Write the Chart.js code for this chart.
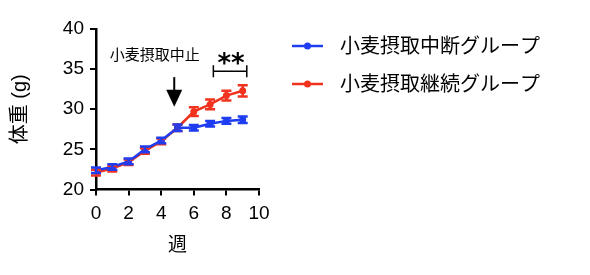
<!DOCTYPE html>
<html>
<head>
<meta charset="utf-8">
<script src="https://cdn.jsdelivr.net/npm/chart.js@4"></script>
<style>
  html, body { margin: 0; padding: 0; background: #fff; }
  #wrap { width: 590px; height: 275px; }
</style>
</head>
<body>
<div id="wrap"><canvas id="myChart" width="590" height="275"></canvas></div>
<script>
'use strict';

const weeks = [0, 1, 2, 3, 4, 5, 6, 7, 8, 9];
const stopLabel = '小麦摂取中断グループ';
const contLabel = '小麦摂取継続グループ';
const stopMeans = [22.4, 22.8, 23.5, 25.0, 26.1, 27.7, 27.7, 28.2, 28.55, 28.7];
const stopErrs  = [0.35, 0.35, 0.35, 0.35, 0.35, 0.4, 0.35, 0.35, 0.35, 0.4];
const contMeans = [22.1, 22.6, 23.4, 24.8, 26.0, 27.7, 29.7, 30.6, 31.7, 32.3];
const contErrs  = [0.35, 0.35, 0.35, 0.35, 0.35, 0.4, 0.55, 0.6, 0.6, 0.7];
const xTicks = [0, 2, 4, 6, 8, 10];
const yTicks = [20, 25, 30, 35, 40];
const stopNote = '小麦摂取中止';
const sigMark = '**';

const BLUE = '#1e3cf0';
const RED = '#f0321e';
const FONT = "'Liberation Sans', 'Noto Sans CJK JP', sans-serif";

const errorBars = {
    id: 'errorBars',
    afterDatasetsDraw(chart) {
        const ctx = chart.ctx;
        const xs = chart.scales.x, ys = chart.scales.y;
        for (let d = chart.data.datasets.length - 1; d >= 0; d--) {
            const ds = chart.data.datasets[d];
            ctx.save();
            ctx.strokeStyle = ds.borderColor;
            ctx.lineWidth = 2.5;
            for (let i = 0; i < ds.data.length; i++) {
                const p = ds.data[i];
                const x = xs.getPixelForValue(p.x);
                const y1 = ys.getPixelForValue(p.y - ds.errs[i]);
                const y2 = ys.getPixelForValue(p.y + ds.errs[i]);
                ctx.beginPath();
                ctx.moveTo(x, y1); ctx.lineTo(x, y2);
                ctx.moveTo(x - 5, y1); ctx.lineTo(x + 5, y1);
                ctx.moveTo(x - 5, y2); ctx.lineTo(x + 5, y2);
                ctx.stroke();
            }
            ctx.restore();
        }
    }
};

const notes = {
    id: 'notes',
    afterDraw(chart) {
        const ctx = chart.ctx;
        const xs = chart.scales.x, ys = chart.scales.y;
        ctx.save();
        ctx.fillStyle = '#000';
        ctx.strokeStyle = '#000';
        // text + arrow
        ctx.font = '15px ' + FONT;
        ctx.textAlign = 'center';
        ctx.textBaseline = 'middle';
        ctx.fillText(stopNote, xs.getPixelForValue(3.6), ys.getPixelForValue(36.6));
        const ax = xs.getPixelForValue(4.8);
        const aTop = ys.getPixelForValue(34.0);
        const aTip = ys.getPixelForValue(30.3);
        ctx.lineWidth = 2;
        ctx.beginPath(); ctx.moveTo(ax, aTop); ctx.lineTo(ax, aTip - 8); ctx.stroke();
        ctx.beginPath();
        ctx.moveTo(ax - 8, aTip - 17); ctx.lineTo(ax + 8, aTip - 17); ctx.lineTo(ax, aTip);
        ctx.closePath(); ctx.fill();
        // bracket
        const bx1 = xs.getPixelForValue(7.2), bx2 = xs.getPixelForValue(9.25);
        const by = ys.getPixelForValue(34.75);
        ctx.lineWidth = 1.5;
        ctx.beginPath();
        ctx.moveTo(bx1, by); ctx.lineTo(bx2, by);
        ctx.moveTo(bx1, by - 6); ctx.lineTo(bx1, by + 6);
        ctx.moveTo(bx2, by - 6); ctx.lineTo(bx2, by + 6);
        ctx.stroke();
        ctx.font = "bold 26px 'DejaVu Sans', sans-serif";
        ctx.textBaseline = 'alphabetic';
        ctx.fillText(sigMark, (bx1 + bx2) / 2 + 1, by + 1);
        // legend
        ctx.font = '20px ' + FONT;
        ctx.textAlign = 'left';
        ctx.textBaseline = 'middle';
        const rows = [46, 84];
        chart.data.datasets.forEach((ds, k) => {
            const y = rows[k];
            ctx.strokeStyle = ds.borderColor;
            ctx.fillStyle = ds.borderColor;
            ctx.lineWidth = 2.5;
            ctx.beginPath(); ctx.moveTo(292, y); ctx.lineTo(323, y); ctx.stroke();
            ctx.beginPath(); ctx.arc(307.5, y, 3.5, 0, Math.PI * 2); ctx.fill();
            ctx.fillStyle = '#000';
            ctx.fillText(ds.label, 340, y + 1);
        });
        ctx.restore();
    }
};

function series(means) {
    return means.map((v, i) => ({ x: weeks[i], y: v }));
}

const config = {
    type: 'line',
    data: {
        datasets: [{
            label: stopLabel,
            data: series(stopMeans),
            errs: stopErrs,
            borderColor: BLUE,
            backgroundColor: BLUE,
            borderWidth: 2.5,
            pointRadius: 3.5,
            pointBorderWidth: 0,
            tension: 0
        }, {
            label: contLabel,
            data: series(contMeans),
            errs: contErrs,
            borderColor: RED,
            backgroundColor: RED,
            borderWidth: 2.5,
            pointRadius: 3.5,
            pointBorderWidth: 0,
            tension: 0
        }]
    },
    options: {
        responsive: false,
        animation: false,
        layout: { padding: { left: 0, top: 29, right: 331, bottom: 18 } },
        plugins: { legend: { display: false }, tooltip: { enabled: false } },
        scales: {
            x: {
                type: 'linear', min: 0, max: 10,
                afterBuildTicks(scale) { scale.ticks = xTicks.map(v => ({ value: v })); },
                afterFit(scale) { scale.height = 67.5; },
                grid: { display: true, drawOnChartArea: false, drawTicks: true, tickLength: 6, color: '#000', lineWidth: 2 },
                border: { display: true, color: '#000', width: 2.5 },
                ticks: { color: '#000', font: { family: FONT, size: 19 }, padding: 7, maxRotation: 0 },
                title: { display: true, text: '週', color: '#000', font: { family: FONT, size: 19 }, padding: { top: 4, bottom: 0 } }
            },
            y: {
                type: 'linear', min: 20, max: 40,
                afterBuildTicks(scale) { scale.ticks = yTicks.map(v => ({ value: v })); },
                afterFit(scale) { scale.width = 96; },
                grid: { display: true, drawOnChartArea: false, drawTicks: true, tickLength: 6, color: '#000', lineWidth: 2 },
                border: { display: true, color: '#000', width: 2.5 },
                ticks: { color: '#000', font: { family: FONT, size: 19 }, padding: 6 },
                title: { display: true, text: '体重 (g)', color: '#000', font: { family: FONT, size: 20 }, padding: { top: 8, bottom: 0 } }
            }
        }
    },
    plugins: [errorBars, notes]
};

const myChart = new Chart(document.getElementById('myChart'), config);
</script>
</body>
</html>
